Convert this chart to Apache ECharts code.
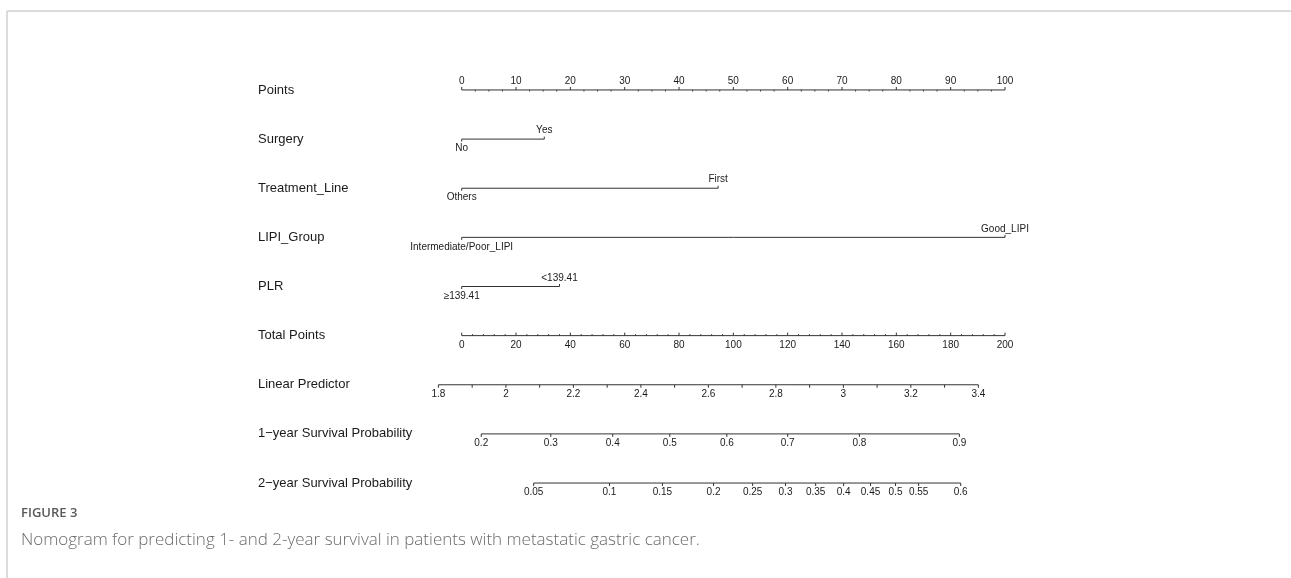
<!DOCTYPE html>
<html>
<head>
<meta charset="utf-8">
<script src="https://cdn.jsdelivr.net/npm/echarts@6/dist/echarts.min.js"></script>
<style>
html,body{margin:0;padding:0;background:#fff;}
#chart{width:1291px;height:578px;}
</style>
</head>
<body>
<div id="chart"></div>
<script>
// ---------------- data ----------------
const rowNames = ['Points','Surgery','Treatment_Line','LIPI_Group','PLR','Total Points','Linear Predictor','1\u2212year Survival Probability','2\u2212year Survival Probability'];

const pointsTicks = [0,10,20,30,40,50,60,70,80,90,100];

const surgeryLevels = ['No','Yes'];
const surgeryPoints = [0, 15.2];

const treatmentLevels = ['Others','First'];
const treatmentPoints = [0, 47.2];

const lipiLevels = ['Intermediate/Poor_LIPI','Good_LIPI'];
const lipiPoints = [0, 100];

const plrLevels = ['\u2265139.41','<139.41'];
const plrPoints = [0, 18.0];

const totalTicks = [0,20,40,60,80,100,120,140,160,180,200];

const lpTicks = [1.8,2,2.2,2.4,2.6,2.8,3,3.2,3.4];
const lpAtTotal0 = 1.869;    // linear predictor at 0 total points
const lpAtTotal200 = 3.479;  // linear predictor at 200 total points

const surv1Labels = ['0.2','0.3','0.4','0.5','0.6','0.7','0.8','0.9'];
const surv1Total  = [7.2, 32.8, 55.6, 76.6, 97.6, 120.0, 146.4, 183.2];

const surv2Labels = ['0.05','0.1','0.15','0.2','0.25','0.3','0.35','0.4','0.45','0.5','0.55','0.6'];
const surv2Total  = [26.5, 54.4, 73.9, 92.7, 107.1, 119.2, 130.3, 140.6, 150.5, 159.7, 168.2, 183.7];

// ---------------- scale helpers ----------------
const totalMax = 200, pointsMax = 100;
const tpToPts = tp => tp * pointsMax / totalMax;
const lpToPts = lp => tpToPts((lp - lpAtTotal0) / (lpAtTotal200 - lpAtTotal0) * totalMax);

// ---------------- build ticks & segments ----------------
const ticks = [];   // {x,row,label,tickUp,labelUp,len}
const segs = [];    // [x0,x1,row]

function addRow(row, xs, labels, opts){
  xs.forEach((x,i)=>{
    ticks.push({x, row, label: labels ? labels[i] : '', tickUp: opts.tickUp(i), labelUp: opts.labelUp(i), len: opts.len});
  });
  segs.push([Math.min(...xs), Math.max(...xs), row]);
}
function addMinor(row, from, to, step, skipEvery, toPts, tickUp, len){
  const n = Math.round((to-from)/step);
  for(let k=0;k<=n;k++){
    if (k % skipEvery === 0) continue;
    ticks.push({x: toPts(from + k*step), row, label:'', tickUp, labelUp:false, len});
  }
}

// Points
addRow(0, pointsTicks, pointsTicks.map(String), {tickUp:()=>true, labelUp:()=>true, len:3});
addMinor(0, 0, 100, 2.5, 4, v=>v, false, 1.5);
// categorical predictors
[[surgeryPoints,surgeryLevels],[treatmentPoints,treatmentLevels],[lipiPoints,lipiLevels],[plrPoints,plrLevels]].forEach((d,j)=>{
  addRow(1+j, d[0], d[1], {tickUp:i=>i>0, labelUp:i=>i>0, len:2.5});
});
// Total points
addRow(5, totalTicks.map(tpToPts), totalTicks.map(String), {tickUp:()=>true, labelUp:()=>false, len:3});
addMinor(5, 0, 200, 4, 5, tpToPts, true, 1.5);
// Linear predictor
addRow(6, lpTicks.map(lpToPts), lpTicks.map(String), {tickUp:()=>false, labelUp:()=>false, len:3});
addMinor(6, 1.8, 3.4, 0.1, 2, lpToPts, false, 3);
// Survival probabilities
addRow(7, surv1Total.map(tpToPts), surv1Labels, {tickUp:()=>false, labelUp:()=>false, len:3});
addRow(8, surv2Total.map(tpToPts), surv2Labels, {tickUp:()=>false, labelUp:()=>false, len:3});

// ---------------- chart ----------------
const INK = '#333333';
const TXT = '#1a1a1a';
const FONT = 'Liberation Sans, Arial, sans-serif';
const chart = echarts.init(document.getElementById('chart'), null, {renderer:'canvas'});

chart.setOption({
  animation:false,
  backgroundColor:'#fff',
  grid:{left:461.7, right:286, top:65.4, bottom:70.4, containLabel:false},
  xAxis:{type:'value', min:0, max:pointsMax, show:false},
  yAxis:{type:'category', data:rowNames, inverse:true,
    axisLine:{show:false}, axisTick:{show:false}, splitLine:{show:false},
    axisLabel:{align:'left', margin:203.7, fontSize:13, color:TXT, fontFamily:FONT}},
  series:[
    {
      type:'custom', name:'axes', clip:false, silent:true,
      data: segs.map(s=>[s[0], s[2], s[1]]),
      encode:{x:[0,2], y:1},
      renderItem:(params, api)=>{
        const a = api.coord([api.value(0), api.value(1)]);
        const b = api.coord([api.value(2), api.value(1)]);
        return {type:'line', shape:{x1:a[0], y1:a[1], x2:b[0], y2:b[1]}, style:{stroke:INK, lineWidth:1}};
      }
    },
    {
      type:'custom', name:'ticks', clip:false, silent:true,
      data: ticks.map(t=>[t.x, t.row]),
      encode:{x:0, y:1},
      renderItem:(params, api)=>{
        const t = ticks[params.dataIndex];
        const p = api.coord([api.value(0), api.value(1)]);
        const dir = t.tickUp ? -1 : 1;
        const children = [{type:'line', shape:{x1:p[0], y1:p[1], x2:p[0], y2:p[1]+dir*t.len}, style:{stroke:INK, lineWidth:1}}];
        if (t.label){
          children.push({type:'text', x:p[0], y: t.labelUp ? p[1]-3.5 : p[1]+4.5,
            style:{text:t.label, align:'center', verticalAlign: t.labelUp ? 'bottom' : 'top',
              fontSize:10, fontFamily:FONT, fill:TXT}});
        }
        return {type:'group', children};
      }
    }
  ],
  graphic:[
    {type:'line', shape:{x1:7, y1:11, x2:1291, y2:11}, style:{stroke:'#cfcfcf', lineWidth:1.5}},
    {type:'line', shape:{x1:7, y1:11, x2:7, y2:578}, style:{stroke:'#cfcfcf', lineWidth:1.5}},
    {type:'text', left:21, top:507, style:{text:'FIGURE 3', fontSize:13, fontWeight:600, fontFamily:'Open Sans, Lato, sans-serif', fill:'#595959'}},
    {type:'text', left:21, top:532, style:{text:'Nomogram for predicting 1- and 2-year survival in patients with metastatic gastric cancer.', fontSize:17, fontWeight:300, fontFamily:'Open Sans, Lato, sans-serif', fill:'#6a6a6a'}}
  ]
});
</script>
</body>
</html>
